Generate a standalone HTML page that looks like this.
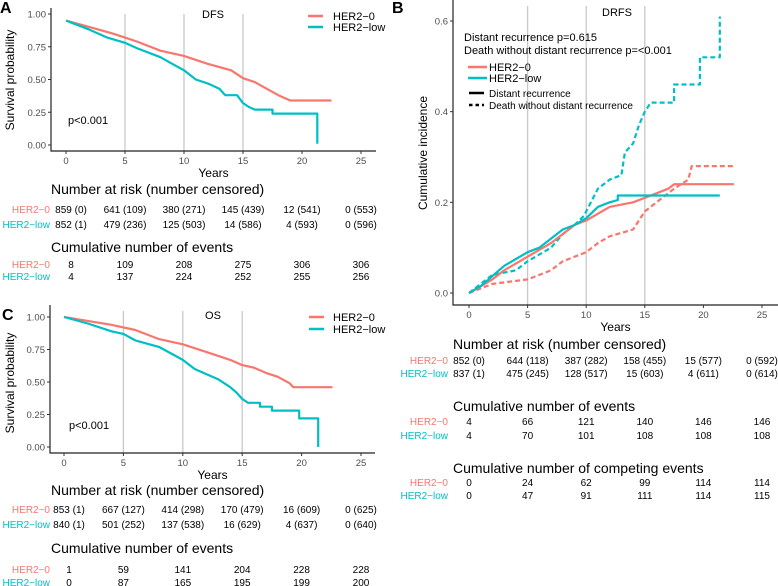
<!DOCTYPE html>
<html><head><meta charset="utf-8"><style>
html,body{margin:0;padding:0;background:#fff;}
svg{display:block;font-family:"Liberation Sans",Arial,sans-serif;}
</style></head><body>
<svg id="fig" width="778" height="586" viewBox="0 0 778 586" xmlns="http://www.w3.org/2000/svg"></svg>
<script>
// ---------- DATA ----------
const yearTicks = [0,5,10,15,20,25];
// Panel A DFS
const dfsZeroT = [0,2,4,5,6,8,10,12,14,15,16,17,18,19,22.5];
const dfsZeroS = [0.95,0.90,0.85,0.82,0.79,0.72,0.68,0.62,0.57,0.51,0.48,0.43,0.38,0.34,0.34];
const dfsLowT = [0,2,3.5,5,6,8,9,10,11,12,13,13.5,14.5,15,15.5,16,17.5,17.5,21.3,21.3];
const dfsLowS = [0.95,0.88,0.82,0.78,0.74,0.67,0.62,0.57,0.50,0.47,0.43,0.38,0.38,0.32,0.29,0.27,0.27,0.24,0.24,0.01];
// Panel C OS
const osZeroT = [0,2,4,5,6,8,10,12,14,15,16,17,18,19,19.3,22.6];
const osZeroS = [1,0.97,0.94,0.92,0.90,0.83,0.79,0.73,0.67,0.63,0.61,0.57,0.54,0.49,0.46,0.46];
const osLowT = [0,2,4,5,6,8,9,10,11,12,13,14,14.5,15,15.5,16.5,16.5,17.5,17.5,19.8,19.8,21.4,21.4];
const osLowS = [1,0.95,0.89,0.87,0.82,0.77,0.72,0.67,0.60,0.56,0.52,0.46,0.42,0.37,0.34,0.34,0.31,0.31,0.28,0.28,0.22,0.22,0.0];
// Panel B DRFS cumulative incidence
const drZeroT = [0,2,3,5,7,9,10,12,13,14,15,16,17,17.5,22.6];
const drZeroV = [0,0.03,0.05,0.08,0.11,0.15,0.16,0.19,0.195,0.20,0.21,0.22,0.23,0.24,0.24];
const drLowT = [0,1,3,4,5,6,7,8,9,10,11,12,12.7,12.7,21.4];
const drLowV = [0,0.015,0.06,0.075,0.09,0.10,0.12,0.14,0.15,0.165,0.19,0.20,0.205,0.215,0.215];
const dthZeroT = [0,2,5,6,7,8,10,11,12,14,14.5,15,16,17.5,18.7,19,22.6];
const dthZeroV = [0,0.02,0.03,0.04,0.05,0.07,0.09,0.11,0.125,0.14,0.16,0.18,0.20,0.23,0.25,0.28,0.28];
const dthLowT = [0,1,2,4,5,7,8,9,9.8,10.2,11,12,13,13.3,14,14.5,15,15.5,17.5,17.5,19.7,19.7,21.4,21.4];
const dthLowV = [0,0.02,0.04,0.05,0.07,0.10,0.13,0.15,0.17,0.19,0.23,0.25,0.26,0.31,0.33,0.37,0.40,0.42,0.42,0.46,0.46,0.52,0.52,0.61];
// tables
const riskA0 = ["859 (0)","641 (109)","380 (271)","145 (439)","12 (541)","0 (553)"];
const riskA1 = ["852 (1)","479 (236)","125 (503)","14 (586)","4 (593)","0 (596)"];
const evA0 = ["8","109","208","275","306","306"];
const evA1 = ["4","137","224","252","255","256"];
const riskC0 = ["853 (1)","667 (127)","414 (298)","170 (479)","16 (609)","0 (625)"];
const riskC1 = ["840 (1)","501 (252)","137 (538)","16 (629)","4 (637)","0 (640)"];
const evC0 = ["1","59","141","204","228","228"];
const evC1 = ["0","87","165","195","199","200"];
const riskB0 = ["852 (0)","644 (118)","387 (282)","158 (455)","15 (577)","0 (592)"];
const riskB1 = ["837 (1)","475 (245)","128 (517)","15 (603)","4 (611)","0 (614)"];
const evB0 = ["4","66","121","140","146","146"];
const evB1 = ["4","70","101","108","108","108"];
const cmpB0 = ["0","24","62","99","114","114"];
const cmpB1 = ["0","47","91","111","114","115"];
const survTicks = [0,0.25,0.5,0.75,1];
const survTickLabels = ["0.00","0.25","0.50","0.75","1.00"];
const ciTicks = [0,0.2,0.4,0.6];
const ciTickLabels = ["0.0","0.2","0.4","0.6"];

// ---------- DRAW ----------
const NS="http://www.w3.org/2000/svg";
const svg=document.getElementById('fig');
const RED="#F8766D", TEAL="#00BFC4";
function mk(tag,attrs,parent){const e=document.createElementNS(NS,tag);for(const k in attrs)e.setAttribute(k,attrs[k]);(parent||svg).appendChild(e);return e;}
function txt(x,y,s,size,fill,anchor,parent,extra){const t=mk('text',Object.assign({x:x,y:y,'font-size':size,fill:fill,'text-anchor':anchor||'start'},extra||{}),parent);t.textContent=s;return t;}

function panel(cfg){
  const g=mk('g',{});
  
  
  const X=v=>cfg.x0+v*(cfg.x25-cfg.x0)/25;
  const Y=v=>cfg.yb+(v-cfg.vmin)*(cfg.yt-cfg.yb)/(cfg.vmax-cfg.vmin);
  // grid
  [5,10,15].forEach(t=>{const l=mk('line',{x1:X(t),x2:X(t),y1:cfg.gridTop,y2:cfg.axisY,stroke:'#c8c8c8','stroke-width':1.3},g);
    });
  // axes
  const ax=mk('path',{d:`M${cfg.axisX},${cfg.gridTop-6}V${cfg.axisY}H${cfg.axisRight}`,fill:'none',stroke:'#222','stroke-width':1.2},g);
  
  yearTicks.forEach(t=>{mk('line',{x1:X(t),x2:X(t),y1:cfg.axisY,y2:cfg.axisY+3,stroke:'#333'},g);
    const tl=txt(X(t),cfg.axisY+13,String(t),9.5,'#4d4d4d','middle',g);});
  cfg.yTicks.forEach((v,i)=>{mk('line',{x1:cfg.axisX-3,x2:cfg.axisX,y1:Y(v),y2:Y(v),stroke:'#333'},g);
    const tl=txt(cfg.axisX-5,Y(v)+3.5,cfg.yLabels[i],9.5,'#4d4d4d','end',g);});
  const xt=txt((cfg.x0+cfg.x25)/2,cfg.axisY+26,'Years',12,'#000','middle',g);
  
  const yt=txt(0,0,cfg.ylab,12,'#000','middle',g,{transform:`translate(${cfg.ylabX},${cfg.ylabY}) rotate(-90)`});
  
  const tt=txt(cfg.titleX,cfg.titleY,cfg.title,11,'#000','middle',g);
  
  const lt=txt(cfg.letterX,cfg.letterY,cfg.letter,16,'#000','start',g,{'font-weight':'bold'});
  
  cfg.series.forEach(s=>{
    let d='';
    for(let i=0;i<s.t.length;i++){d+=(i?'L':'M')+X(s.t[i]).toFixed(1)+','+Y(s.v[i]).toFixed(1);}
    const p=mk('path',{d:d,fill:'none',stroke:s.c,'stroke-width':2.2,'stroke-linejoin':'round'},g);
    if(s.dash)p.setAttribute('stroke-dasharray','5,3');
    
  });
  // tables
  cfg.tables.forEach(tb=>{
    const h=txt(cfg.tableTitleX,tb.y,tb.title,14,'#000','start',g);
    
    tb.rows.forEach((r,ri)=>{
      const ry=tb.rowY[ri];
      const lb=txt(cfg.rowLabX,ry,ri?'HER2\u2212low':'HER2\u22120',10,ri?TEAL:RED,'end',g);
      
      r.forEach((val,ci)=>{const c=txt(X(yearTicks[ci])+(ci===0?cfg.firstShift:0),ry,val,10,'#000','middle',g);
        });
    });
  });
  return {g:g,X:X,Y:Y};
}

// Panel A
const pA=panel({name:'dfs',letter:'A',letterX:0,letterY:13,x0:66,x25:361,yb:145,yt:14,vmin:0,vmax:1,
  gridTop:14,axisY:151,axisX:51,axisRight:376,yTicks:survTicks,yLabels:survTickLabels,ylab:'Survival probability',ylabX:14,ylabY:80,
  title:'DFS',titleX:213,titleY:18,firstShift:5,tableTitleX:51,rowLabX:50,
  series:[{t:dfsZeroT,v:dfsZeroS,c:RED,name:'dfs-her2-0-curve'},{t:dfsLowT,v:dfsLowS,c:TEAL,name:'dfs-her2-low-curve'}],
  tables:[{title:'Number at risk (number censored)',y:194,rows:[riskA0,riskA1],rowY:[213,228]},
          {title:'Cumulative number of events',y:252,rows:[evA0,evA1],rowY:[268,280]}]});
// Panel C
const pC=panel({name:'os',letter:'C',letterX:2,letterY:320,x0:64,x25:361,yb:447,yt:317,vmin:0,vmax:1,
  gridTop:311,axisY:453,axisX:50,axisRight:375,yTicks:survTicks,yLabels:survTickLabels,ylab:'Survival probability',ylabX:14,ylabY:383,
  title:'OS',titleX:213,titleY:319,firstShift:5,tableTitleX:51,rowLabX:50,
  series:[{t:osZeroT,v:osZeroS,c:RED,name:'os-her2-0-curve'},{t:osLowT,v:osLowS,c:TEAL,name:'os-her2-low-curve'}],
  tables:[{title:'Number at risk (number censored)',y:495,rows:[riskC0,riskC1],rowY:[513,528]},
          {title:'Cumulative number of events',y:553,rows:[evC0,evC1],rowY:[573,586]}]});
// Panel B
const pB=panel({name:'drfs',letter:'B',letterX:392,letterY:13,x0:469,x25:762,yb:293,yt:21,vmin:0,vmax:0.6,
  gridTop:6,axisY:305,axisX:453,axisRight:778,yTicks:ciTicks,yLabels:ciTickLabels,ylab:'Cumulative incidence',ylabX:427,ylabY:153,
  title:'DRFS',titleX:617,titleY:16,firstShift:0,tableTitleX:453,rowLabX:448,
  series:[{t:dthZeroT,v:dthZeroV,c:RED,dash:1,name:'death-her2-0-curve'},{t:dthLowT,v:dthLowV,c:TEAL,dash:1,name:'death-her2-low-curve'},
          {t:drZeroT,v:drZeroV,c:RED,name:'distant-her2-0-curve'},{t:drLowT,v:drLowV,c:TEAL,name:'distant-her2-low-curve'}],
  tables:[{title:'Number at risk (number censored)',y:349,rows:[riskB0,riskB1],rowY:[364,377]},
          {title:'Cumulative number of events',y:411,rows:[evB0,evB1],rowY:[425,439]},
          {title:'Cumulative number of competing events',y:473,rows:[cmpB0,cmpB1],rowY:[486,499]}]});

// Legends
function legEntry(x1,x2,y,c,label,tx,size,dash,name){
  const g=mk('g',{});
  
  
  const l=mk('line',{x1:x1,x2:x2,y1:y,y2:y,stroke:c,'stroke-width':2.5},g);
  if(dash)l.setAttribute('stroke-dasharray','3.5,3');
  txt(tx,y+4,label,size,'#000','start',g);
}
legEntry(308,323,16,RED,'HER2\u22120',333,11,0,'legend-entry-her2-0');
legEntry(308,323,27,TEAL,'HER2\u2212low',333,11,0,'legend-entry-her2-low');
legEntry(309,324,317,RED,'HER2\u22120',333,11,0,'legend-entry-her2-0');
legEntry(309,324,329,TEAL,'HER2\u2212low',333,11,0,'legend-entry-her2-low');
legEntry(468,487,67,RED,'HER2\u22120',489,11,0,'legend-entry-her2-0');
legEntry(468,487,78,TEAL,'HER2\u2212low',489,11,0,'legend-entry-her2-low');
legEntry(469,484,93,'#000','Distant recurrence',489,10,0,'legend-entry-distant');
legEntry(469,484,105,'#000','Death without distant recurrence',489,10,1,'legend-entry-death');
// p values
let p=txt(68,124,'p<0.001',11,'#000');
p=txt(69,429,'p<0.001',11,'#000');
p=txt(464,41,'Distant recurrence p=0.615',11,'#000');
p=txt(464,54,'Death without distant recurrence p=<0.001',11,'#000');
</script>
</body></html>
